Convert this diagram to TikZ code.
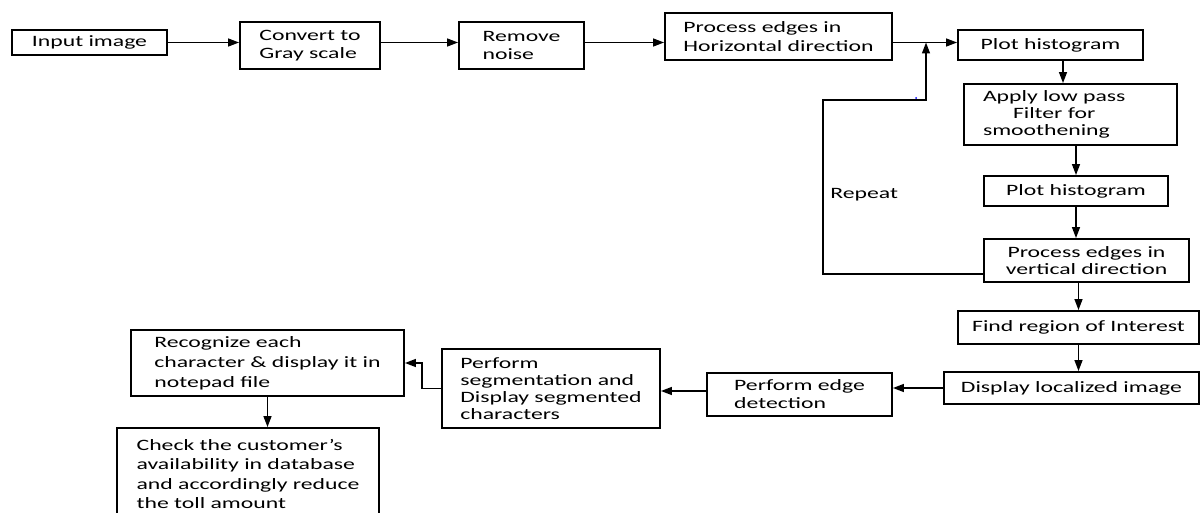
\documentclass[tikz,border=0pt]{standalone}
\usepackage{fontspec}
\setmainfont{Carlito}[FakeStretch=1.5]
\usetikzlibrary{arrows.meta}

\begin{document}
\begin{tikzpicture}[x=0.5pt, y=-0.5pt,
   box/.style = {draw, line width=0.95pt, align=left, inner sep=0pt,
                 font=\fontsize{7.9}{9}\selectfont},
   note/.style = {inner sep=0pt, font=\fontsize{7.9}{9}\selectfont},
   arrow/.style = {line width=0.7pt, -{Triangle[length=5.5pt,width=4pt]}}
                        ]
\clip (0,0) rectangle (1200,513);
% top row
\node (inp)   [box, align=center, minimum width=77.5pt, minimum height=12.5pt] at (89.5,42.5) {Input image};
\node (gray)  [box, minimum width=70pt, minimum height=23.5pt] at (310,45.5) {Convert to\\Gray scale};
\node (noise) [box, minimum width=62.5pt, minimum height=23.5pt] at (521.5,45.5) {Remove\\noise};
\node (proch) [box, minimum width=113.5pt, minimum height=23.5pt,
               font=\fontsize{7.9}{9.5}\selectfont] at (778.5,36.5) {Process edges in\\Horizontal direction};
% right column
\node (plot1) [box, align=center, minimum width=92.5pt, minimum height=15pt] at (1050.5,45) {Plot histogram};
\node (lowpass) [box, text width=87.5pt, inner xsep=9.5pt, minimum height=30.5pt,
                 font=\fontsize{7.9}{8.5}\selectfont] at (1070.5,114.5)
                {Apply low pass\\\hspace*{15pt}Filter for\\smoothening};
\node (plot2) [box, align=center, minimum width=92pt, minimum height=15pt] at (1076,191) {Plot histogram};
\node (procv) [box, align=center, minimum width=102.5pt, minimum height=21.5pt,
               font=\fontsize{7.9}{8.5}\selectfont] at (1086.5,260.5) {Process edges in\\vertical direction};
\node (roi)   [box, align=center, minimum width=120.5pt, minimum height=16.5pt] at (1078.5,327.5) {Find region of Interest};
\node (disp)  [box, align=center, minimum width=127.5pt, minimum height=16pt] at (1071.5,388) {Display localized image};
% bottom row
\node (edge)  [box, minimum width=92.5pt, minimum height=21.5pt] at (799.5,394.5) {Perform edge\\detection};
\node (seg)   [box, minimum width=109pt, minimum height=39.5pt,
               font=\fontsize{7.9}{8.5}\selectfont] at (551,388.5)
              {Perform\\segmentation and\\Display segmented\\characters};
\node (recog) [box, minimum width=136.5pt, minimum height=33pt,
               font=\fontsize{7.9}{9.9}\selectfont] at (267.5,363)
              {Recognize each\\character \& display it in\\notepad file};
\node (check) [box, minimum width=131pt, minimum height=46pt,
               font=\fontsize{7.9}{9.8}\selectfont] at (248,474)
              {Check the customer's\\availability in database\\and accordingly reduce\\the toll amount};
% feedback loop
\coordinate (rep1) at (823,100);
\coordinate (rep2) at (926,100);
\node (rpt) [note, anchor=west] at (830,195) {Repeat};
\fill[blue] (916,98) circle (1);
% connectors
\draw [arrow] (inp.east) -- (inp.east -| gray.west);
\draw [arrow] (gray.east |- inp.east) -- (noise.west |- inp.east);
\draw [arrow] (noise.east |- inp.east) -- (proch.west |- inp.east);
\draw [arrow] (proch.east |- inp.east) -- (plot1.west |- inp.east);
\draw [arrow] ([yshift=-6.75pt]procv.west) -| (rep1) -- (rep2) -- (rep2 |- inp.east);
\draw [arrow] ([xshift=6.25pt]plot1.south) -- ([xshift=6.25pt]plot1.south |- lowpass.north);
\draw [arrow] (plot2.north |- lowpass.south) -- (plot2.north);
\draw [arrow] (plot2.south) -- (plot2.south |- procv.north);
\draw [arrow] (roi.north |- procv.south) -- (roi.north);
\draw [arrow] (roi.south) -- (roi.south |- disp.north);
\draw [arrow] (disp.west) -- (disp.west -| edge.east);
\draw [arrow] ([yshift=1.75pt]edge.west) -- ([yshift=1.75pt]edge.west -| seg.east);
\draw [arrow] (seg.west) -- ++(-19,0) |- (recog.east);
\draw [arrow] (recog.south) -- (recog.south |- check.north);
\end{tikzpicture}
\end{document}
